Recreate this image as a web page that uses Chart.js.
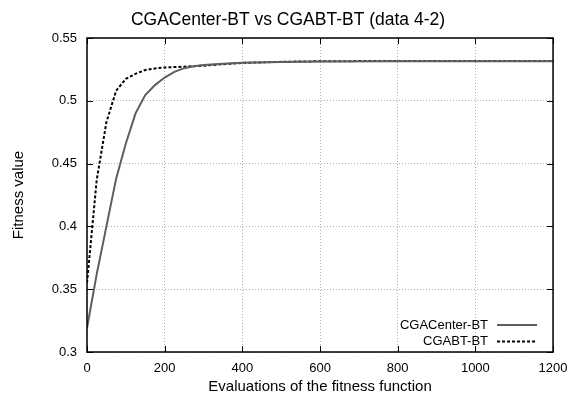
<!DOCTYPE html>
<html>
<head>
<meta charset="utf-8">
<script src="https://cdn.jsdelivr.net/npm/chart.js@4/dist/chart.umd.min.js"></script>
<style>
  html, body { margin: 0; padding: 0; background: #fff; }
  #wrap { width: 576px; height: 398px; }
</style>
</head>
<body>
<div id="wrap"><canvas id="chart" width="576" height="398"></canvas></div>
<script>
'use strict';

// evaluations and fitness values
var centerX = [0, 25, 50, 75, 100, 125, 150, 175, 200, 225, 250, 275, 300, 350, 400, 500, 600, 800, 1000, 1200];
var centerY = [0.319, 0.362, 0.400, 0.438, 0.466, 0.490, 0.5045, 0.5125, 0.5185, 0.523, 0.526, 0.5275, 0.5285, 0.5295, 0.5302, 0.5308, 0.5312, 0.5315, 0.5315, 0.5315];

var abtX = [0, 25, 50, 75, 100, 125, 150, 175, 200, 250, 300, 400, 500, 600, 800, 1000, 1200];
var abtY = [0.355, 0.437, 0.483, 0.508, 0.5175, 0.5215, 0.5245, 0.5258, 0.5265, 0.5272, 0.528, 0.5302, 0.531, 0.5315, 0.5317, 0.5317, 0.5317];

var seriesNames = ['CGACenter-BT', 'CGABT-BT'];
var xTicks = [0, 200, 400, 600, 800, 1000, 1200];
var yTicks = [0.3, 0.35, 0.4, 0.45, 0.5, 0.55];

var FONT = "'Liberation Sans', Arial, Helvetica, sans-serif";

function points(xs, ys) {
    return xs.map(function (x, i) { return {x: x, y: ys[i]}; });
}

function plain(v) {
    return String(v);
}

// box round the plot and inward tick marks, gnuplot style
var frame = {
    id: 'frame',
    afterDatasetsDraw: function (chart) {
        var ctx = chart.ctx, a = chart.chartArea;
        var sx = chart.scales.x, sy = chart.scales.y;
        ctx.save();
        ctx.strokeStyle = '#000';
        ctx.lineWidth = 1;
        ctx.beginPath();
        xTicks.forEach(function (t) {
            var px = Math.round(sx.getPixelForValue(t)) + 0.5;
            ctx.moveTo(px, a.bottom); ctx.lineTo(px, a.bottom - 6);
            ctx.moveTo(px, a.top); ctx.lineTo(px, a.top + 6);
        });
        yTicks.forEach(function (t) {
            var py = Math.round(sy.getPixelForValue(t)) + 0.5;
            ctx.moveTo(a.left, py); ctx.lineTo(a.left + 6, py);
            ctx.moveTo(a.right, py); ctx.lineTo(a.right - 6, py);
        });
        ctx.stroke();
        ctx.lineWidth = 1.5;
        ctx.strokeRect(a.left, a.top, a.right - a.left, a.bottom - a.top);
        ctx.restore();
    }
};

// legend in the lower right corner, text first then the line sample
var keyBox = {
    id: 'keyBox',
    afterDraw: function (chart) {
        var ctx = chart.ctx, a = chart.chartArea;
        ctx.save();
        ctx.font = '13px ' + FONT;
        ctx.textAlign = 'right';
        ctx.textBaseline = 'middle';
        chart.data.datasets.forEach(function (ds, i) {
            var y = a.bottom - 27 + i * 16.5;
            ctx.fillStyle = '#000';
            ctx.fillText(ds.label, a.right - 65, y);
            ctx.strokeStyle = ds.borderColor;
            ctx.lineWidth = ds.borderWidth;
            ctx.setLineDash(ds.borderDash || []);
            ctx.beginPath();
            ctx.moveTo(a.right - 56, y);
            ctx.lineTo(a.right - 16, y);
            ctx.stroke();
        });
        ctx.restore();
    }
};

new Chart(document.getElementById('chart'), {
    type: 'line',
    data: {
        datasets: [{
            label: seriesNames[0],
            data: points(centerX, centerY),
            borderColor: '#5e5e5e',
            borderWidth: 2,
            pointRadius: 0,
            tension: 0
        }, {
            label: seriesNames[1],
            data: points(abtX, abtY),
            borderColor: '#000',
            borderWidth: 2,
            borderDash: [3, 2],
            pointRadius: 0,
            tension: 0
        }]
    },
    options: {
        responsive: false,
        animation: false,
        layout: { padding: 0 },
        plugins: {
            legend: { display: false },
            tooltip: { enabled: false },
            title: {
                display: true,
                text: 'CGACenter-BT vs CGABT-BT (data 4-2)',
                color: '#000',
                font: { family: FONT, size: 17.5, weight: 'normal' },
                padding: { top: 10, bottom: 7 }
            }
        },
        scales: {
            x: {
                type: 'linear',
                min: 0,
                max: 1200,
                afterBuildTicks: function (s) { s.ticks = xTicks.map(function (v) { return {value: v}; }); },
                afterFit: function (s) { s.height = 46; },
                ticks: { color: '#000', padding: 8.5, font: { family: FONT, size: 13 }, callback: plain },
                grid: { color: '#b0b0b0', lineWidth: 1, drawTicks: false },
                border: { display: false, dash: [1, 2] },
                title: {
                    display: true,
                    text: 'Evaluations of the fitness function',
                    color: '#000',
                    font: { family: FONT, size: 15 },
                    padding: { top: 0, bottom: 2 }
                }
            },
            y: {
                type: 'linear',
                min: 0.3,
                max: 0.55,
                afterBuildTicks: function (s) { s.ticks = yTicks.map(function (v) { return {value: v}; }); },
                afterFit: function (s) { s.width = 87; },
                ticks: { color: '#000', padding: 10, font: { family: FONT, size: 13 }, callback: plain },
                grid: { color: '#b0b0b0', lineWidth: 1, drawTicks: false },
                border: { display: false, dash: [1, 2] },
                title: {
                    display: true,
                    text: 'Fitness value',
                    color: '#000',
                    font: { family: FONT, size: 15 },
                    padding: { top: 10, bottom: 0 }
                }
            },
            // empty right-hand margin so the title centres on the whole canvas
            yRight: {
                type: 'linear',
                position: 'right',
                min: 0.3,
                max: 0.55,
                afterFit: function (s) { s.width = 19; },
                ticks: { display: false },
                grid: { display: false, drawTicks: false },
                border: { display: false }
            }
        }
    },
    plugins: [frame, keyBox]
});
</script>
</body>
</html>
